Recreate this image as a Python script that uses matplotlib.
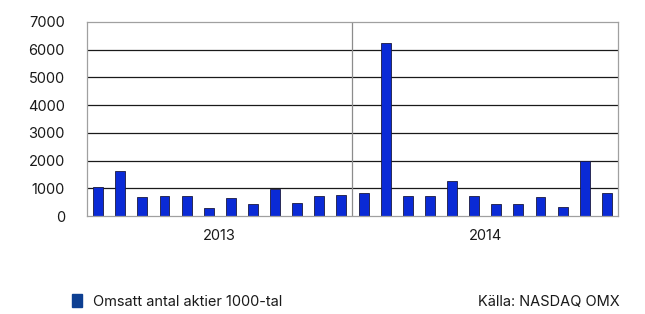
import numpy as np
import matplotlib.pyplot as plt

plt.rcParams['font.family'] = ['Inter', 'DejaVu Sans']

years = ['2013', '2014']
values_2013 = [1050, 1610, 690, 710, 735, 300, 665, 445, 965, 470, 710, 770]
values_2014 = [820, 6240, 710, 710, 1265, 710, 445, 445, 690, 325, 2000, 845]
yticks = [0, 1000, 2000, 3000, 4000, 5000, 6000, 7000]

values = values_2013 + values_2014
x = np.arange(len(values))

fig = plt.figure(figsize=(6.45, 3.14), dpi=100)
ax = fig.add_axes([0.135, 0.312, 0.823, 0.618])

# horizontal grid
for y in yticks[1:-1]:
    ax.axhline(y, color='#1a1a1a', lw=0.9, zorder=1)
ax.axvline(len(values_2013) - 0.5, color='#8c8c8c', lw=0.9, zorder=1)

ax.bar(x, values, width=0.45, color='#0a2ad6', edgecolor='#1a1a40', lw=0.6, zorder=2)

ax.set_xlim(-0.5, len(values) - 0.5)
ax.set_ylim(0, 7000)
ax.set_yticks(yticks)
ax.set_yticklabels([str(v) for v in yticks], fontsize=10.5, color='#1a1a1a')
ax.set_xticks([])
ax.tick_params(axis='y', length=0, pad=16)
for s in ax.spines.values():
    s.set_color('#a0a0a0')
    s.set_linewidth(0.9)

n = len(values_2013)
for i, yr in enumerate(years):
    ax.text(i * n + (n - 1) / 2, -480, yr, ha='center', va='top',
            fontsize=10.5, color='#1a1a1a')

# legend + source
fig.patches.append(plt.Rectangle((72 / 645, 1 - 307 / 314), 10 / 645, 13 / 314,
                                 transform=fig.transFigure, color='#0d3f92'))
fig.text(93 / 645, 1 - 302 / 314, 'Omsatt antal aktier 1000-tal', va='center',
         fontsize=10.5, color='#1a1a1a')
fig.text(620 / 645, 1 - 302 / 314, 'Källa: NASDAQ OMX', va='center', ha='right',
         fontsize=10.5, color='#1a1a1a')

fig.savefig('out.png', dpi=100)
